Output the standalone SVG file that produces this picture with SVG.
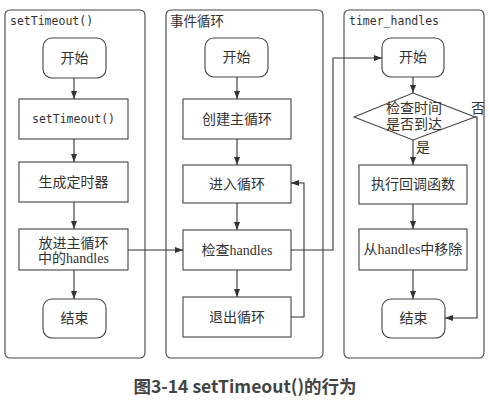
<svg xmlns="http://www.w3.org/2000/svg" width="490" height="407" viewBox="0 0 490 407">
  <style>
    .lane { fill: #fff; stroke: #444; stroke-width: 1.1; }
    .box { fill: #fff; stroke: #444; stroke-width: 1.1; }
    .mono { font-family: "DejaVu Sans Mono", "Liberation Mono", monospace; font-size: 11.5px; fill: #333; }
    .lbl { font-family: "Liberation Serif", "Noto Sans CJK SC", serif; font-size: 14px; fill: #333; }
    .cn { font-family: "Noto Sans CJK SC", sans-serif; font-size: 13.5px; fill: #333; }
    .edge { fill: none; stroke: #333; stroke-width: 1.1; marker-end: url(#arrow); }
    .cap { font-family: "Noto Sans CJK SC", "Open Sans", sans-serif; font-size: 17.5px; font-weight: bold; fill: #444; }
  </style>
  <defs>
    <marker id="arrow" markerUnits="userSpaceOnUse" markerWidth="8" markerHeight="6" refX="8" refY="3" orient="auto">
      <path d="M0,0 L8,3 L0,6 z" fill="#333"/>
    </marker>
  </defs>

  <rect width="490" height="407" fill="#fff"/>

  <!-- swimlanes -->
  <g id="lane-settimeout">
    <rect class="lane" x="5" y="10" width="140" height="348" rx="5"/>
    <text class="mono" x="10" y="25">setTimeout()</text>
  </g>
  <g id="lane-eventloop">
    <rect class="lane" x="166" y="10" width="157" height="348" rx="5"/>
    <text class="cn" x="170" y="26">事件循环</text>
  </g>
  <g id="lane-timer">
    <rect class="lane" x="344" y="10" width="140" height="348" rx="5"/>
    <text class="mono" x="349" y="25">timer_handles</text>
  </g>

  <!-- setTimeout() lane -->
  <g id="a-start">
    <rect class="box" x="43" y="38" width="63" height="40" rx="9"/>
    <text class="lbl" x="74.5" y="63" text-anchor="middle">开始</text>
  </g>
  <g id="a-call">
    <rect class="box" x="19" y="99" width="109" height="40"/>
    <text class="mono" x="73.5" y="123" text-anchor="middle">setTimeout()</text>
  </g>
  <g id="a-create">
    <rect class="box" x="19" y="162" width="109" height="40"/>
    <text class="lbl" x="73.5" y="187" text-anchor="middle">生成定时器</text>
  </g>
  <g id="a-put">
    <rect class="box" x="19" y="229" width="109" height="41"/>
    <text class="lbl" x="73.5" y="248" text-anchor="middle">放进主循环</text>
    <text class="lbl" x="73.5" y="263" text-anchor="middle">中的handles</text>
  </g>
  <g id="a-end">
    <rect class="box" x="43" y="299" width="63" height="39" rx="9"/>
    <text class="lbl" x="74.5" y="323" text-anchor="middle">结束</text>
  </g>

  <!-- event loop lane -->
  <g id="b-start">
    <rect class="box" x="205" y="38" width="63" height="39" rx="9"/>
    <text class="lbl" x="236.5" y="62" text-anchor="middle">开始</text>
  </g>
  <g id="b-create">
    <rect class="box" x="183" y="99" width="108" height="40"/>
    <text class="lbl" x="237" y="124" text-anchor="middle">创建主循环</text>
  </g>
  <g id="b-enter">
    <rect class="box" x="183" y="165" width="108" height="38"/>
    <text class="lbl" x="237" y="189" text-anchor="middle">进入循环</text>
  </g>
  <g id="b-check">
    <rect class="box" x="183" y="230" width="108" height="40"/>
    <text class="lbl" x="237" y="255" text-anchor="middle">检查handles</text>
  </g>
  <g id="b-exit">
    <rect class="box" x="183" y="297" width="108" height="40"/>
    <text class="lbl" x="237" y="322" text-anchor="middle">退出循环</text>
  </g>

  <!-- timer_handles lane -->
  <g id="c-start">
    <rect class="box" x="382" y="38" width="62" height="39" rx="9"/>
    <text class="lbl" x="413" y="62" text-anchor="middle">开始</text>
  </g>
  <g id="c-due">
    <polygon class="box" points="413,93 475,117 413,140 354,117"/>
    <text class="lbl" x="414" y="113" text-anchor="middle">检查时间</text>
    <text class="lbl" x="414" y="129" text-anchor="middle">是否到达</text>
  </g>
  <g id="c-run">
    <rect class="box" x="359" y="165" width="108" height="39"/>
    <text class="lbl" x="413" y="189" text-anchor="middle">执行回调函数</text>
  </g>
  <g id="c-remove">
    <rect class="box" x="359" y="229" width="108" height="41"/>
    <text class="lbl" x="413" y="254" text-anchor="middle">从handles中移除</text>
  </g>
  <g id="c-end">
    <rect class="box" x="382" y="299" width="63" height="39" rx="9"/>
    <text class="lbl" x="413.5" y="323" text-anchor="middle">结束</text>
  </g>

  <!-- connectors -->
  <g id="connectors">
    <path class="edge" d="M74,78 V99"/>
    <path class="edge" d="M74,139 V162"/>
    <path class="edge" d="M74,202 V229"/>
    <path class="edge" d="M74,270 V299"/>

    <path class="edge" d="M237,77 V99"/>
    <path class="edge" d="M237,139 V165"/>
    <path class="edge" d="M237,203 V230"/>
    <path class="edge" d="M237,270 V297"/>
    <path class="edge" d="M291,317 H304 V183 H291"/>

    <path class="edge" d="M128,250 H183"/>
    <path class="edge" d="M291,250 H333 V58 H382"/>

    <path class="edge" d="M413,77 V93"/>
    <path class="edge" d="M413,140 V165"/>
    <path class="edge" d="M413,204 V229"/>
    <path class="edge" d="M413,270 V299"/>
    <path class="edge" d="M475,117 H477 V318 H445"/>
    <text class="lbl" x="416" y="152">是</text>
    <text class="lbl" x="471" y="113">否</text>
  </g>

  <text class="cap" x="245" y="393" text-anchor="middle">图3-14 setTimeout()的行为</text>
</svg>
